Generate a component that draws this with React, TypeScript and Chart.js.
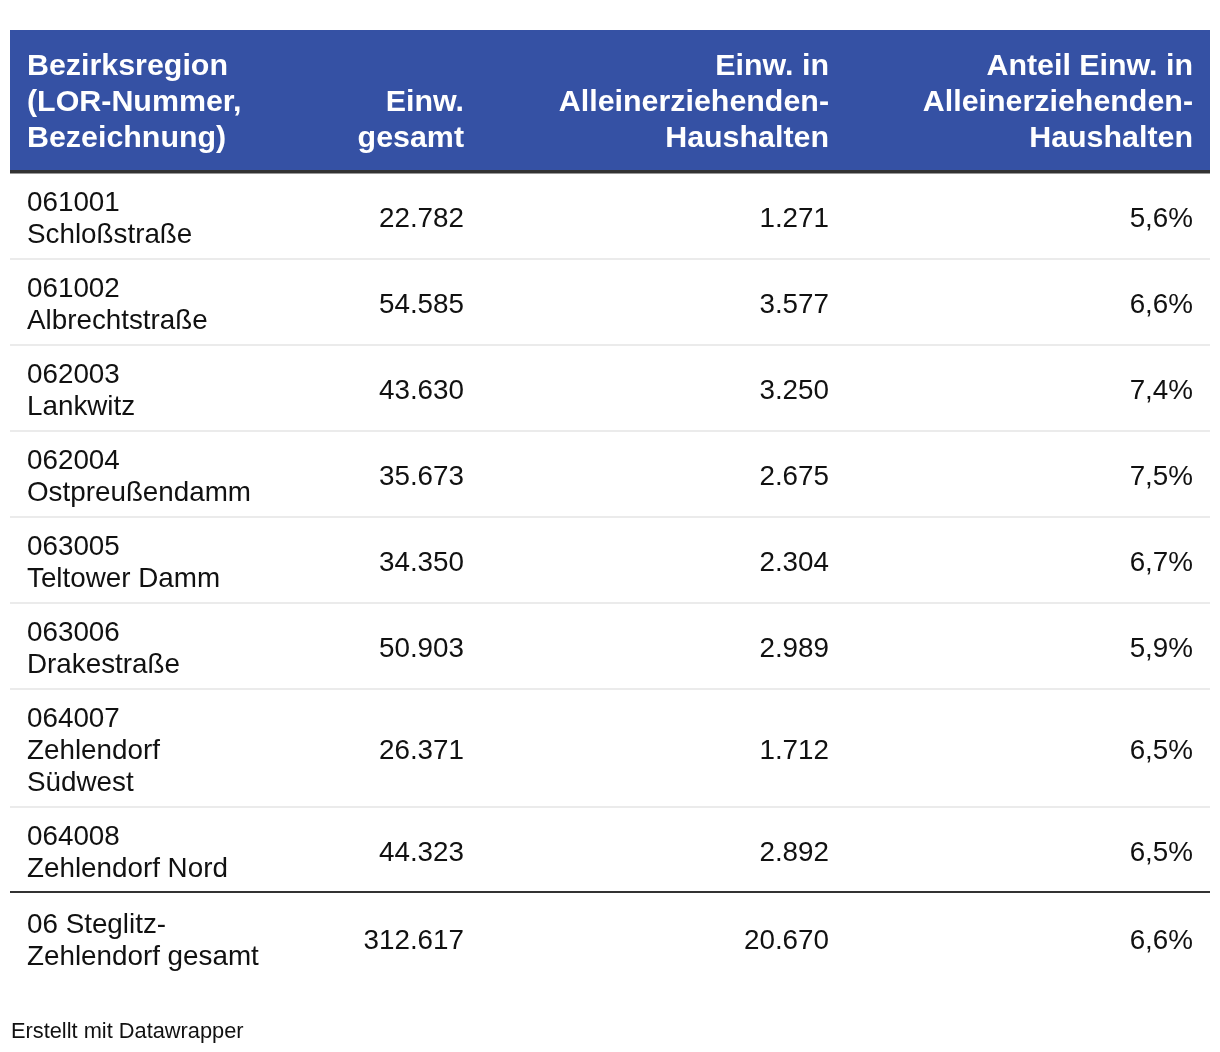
import React, { useEffect, useRef } from 'react';
import { Chart, registerables } from 'chart.js';

Chart.register(...registerables);

// ---------- data ----------
const headerCol1 = ['Bezirksregion', '(LOR-Nummer,', 'Bezeichnung)'];
const headerCol2 = ['Einw.', 'gesamt'];
const headerCol3 = ['Einw. in', 'Alleinerziehenden-', 'Haushalten'];
const headerCol4 = ['Anteil Einw. in', 'Alleinerziehenden-', 'Haushalten'];

const lorCodes = ['061001', '061002', '062003', '062004', '063005', '063006', '064007', '064008'];
const regionNames = [
  'Schloßstraße',
  'Albrechtstraße',
  'Lankwitz',
  'Ostpreußendamm',
  'Teltower Damm',
  'Drakestraße',
  'Zehlendorf Südwest',
  'Zehlendorf Nord',
];
const residentsTotal = [22782, 54585, 43630, 35673, 34350, 50903, 26371, 44323];
const residentsSingleParent = [1271, 3577, 3250, 2675, 2304, 2989, 1712, 2892];
const shareSingleParent = [5.6, 6.6, 7.4, 7.5, 6.7, 5.9, 6.5, 6.5];

const totalLabel = '06 Steglitz-Zehlendorf gesamt';
const totalResidents = 312617;
const totalSingleParent = 20670;
const totalShare = 6.6;

const footerText = 'Erstellt mit Datawrapper';

// ---------- helpers ----------
const fmtInt = (v: number) => String(v).replace(/\B(?=(\d{3})+(?!\d))/g, '.');
const fmtPct = (v: number) => v.toFixed(1).replace('.', ',') + '%';

const FONT = '"Liberation Sans", Arial, Helvetica, sans-serif';

function wrapText(ctx: CanvasRenderingContext2D, text: string, maxW: number): string[] {
  // break opportunities: after spaces and after hyphens
  const tokens = text.match(/[^\s-]+-?|\s+/g) || [text];
  const lines: string[] = [];
  let cur = '';
  for (const t of tokens) {
    const trial = cur + t;
    if (cur && ctx.measureText(trial.trimEnd()).width > maxW) {
      lines.push(cur.trimEnd());
      cur = t.trim() ? t : '';
    } else {
      cur = trial;
    }
  }
  if (cur.trim()) lines.push(cur.trimEnd());
  return lines;
}

export default function App() {
  const ref = useRef<HTMLCanvasElement>(null);

  useEffect(() => {
    const canvas = ref.current;
    if (!canvas) return;
    const W = 1220;
    const H = 1052;

    const tablePlugin = {
      id: 'tablePlugin',
      afterDraw(chart: any) {
        const ctx: CanvasRenderingContext2D = chart.ctx;
        const xs = chart.scales.x;
        const ys = chart.scales.y;
        const px = (v: number) => xs.getPixelForValue(v);
        const py = (v: number) => ys.getPixelForValue(v);

        const tableLeft = 10;
        const tableRight = 1210;
        const headerTop = 30;
        const headerBottom = 170;
        const col1X = 27;
        const colRight = [464, 829, 1193];
        const headerLine = 36;
        const headerLastBaseline = 146.5;
        const bodyLine = 32;
        const rowPad = 22;
        const bodySize = 27.8;
        const headerSize = 30.4;

        ctx.save();
        // header band
        ctx.fillStyle = '#3551a4';
        ctx.fillRect(px(tableLeft), py(headerTop), px(tableRight) - px(tableLeft), py(headerBottom) - py(headerTop));
        ctx.fillStyle = '#333333';
        ctx.fillRect(px(tableLeft), py(headerBottom), px(tableRight) - px(tableLeft), py(headerBottom + 3.5) - py(headerBottom));

        // header text
        ctx.fillStyle = '#ffffff';
        ctx.font = `bold ${headerSize}px ${FONT}`;
        ctx.textBaseline = 'alphabetic';
        const drawHeader = (lines: string[], x: number, align: CanvasTextAlign) => {
          ctx.textAlign = align;
          lines.forEach((l, i) => {
            const b = headerLastBaseline - (lines.length - 1 - i) * headerLine;
            ctx.fillText(l, px(x), py(b));
          });
        };
        drawHeader(headerCol1, col1X, 'left');
        drawHeader(headerCol2, colRight[0], 'right');
        drawHeader(headerCol3, colRight[1], 'right');
        drawHeader(headerCol4, colRight[2], 'right');

        // body rows
        ctx.font = `${bodySize}px ${FONT}`;
        const maxLabelW = 242;
        let y = 173;
        const drawRow = (labelLines: string[], vals: string[], top: number) => {
          ctx.fillStyle = '#111111';
          ctx.textAlign = 'left';
          labelLines.forEach((l, i) => {
            const c = top + 28 + i * bodyLine;
            ctx.fillText(l, px(col1X), py(c + 10));
          });
          const mid = top + 28 + ((labelLines.length - 1) * bodyLine) / 2;
          ctx.textAlign = 'right';
          vals.forEach((v, j) => ctx.fillText(v, px(colRight[j]), py(mid + 10)));
          return labelLines.length * bodyLine + rowPad;
        };

        lorCodes.forEach((code, i) => {
          const lines = [code, ...wrapText(ctx, regionNames[i], maxLabelW)];
          const h = drawRow(
            lines,
            [fmtInt(residentsTotal[i]), fmtInt(residentsSingleParent[i]), fmtPct(shareSingleParent[i])],
            y
          );
          const last = i === lorCodes.length - 1;
          const ruleTop = last ? y + h - 2 : y + h - 1;
          ctx.fillStyle = last ? '#333333' : '#ebebeb';
          ctx.fillRect(px(tableLeft), py(ruleTop), px(tableRight) - px(tableLeft), py(ruleTop + 2) - py(ruleTop));
          y += h;
        });

        // total row
        ctx.font = `${bodySize}px ${FONT}`;
        drawRow(
          wrapText(ctx, totalLabel, maxLabelW),
          [fmtInt(totalResidents), fmtInt(totalSingleParent), fmtPct(totalShare)],
          y + 2
        );

        // footer
        ctx.fillStyle = '#111111';
        ctx.textAlign = 'left';
        ctx.font = `21.8px ${FONT}`;
        ctx.fillText(footerText, px(11), py(1038));
        ctx.restore();
      },
    };

    const chart = new Chart(canvas, {
      type: 'scatter',
      data: { datasets: [] },
      options: {
        animation: false,
        responsive: false,
        maintainAspectRatio: false,
        layout: { padding: 0 },
        events: [],
        plugins: { legend: { display: false }, tooltip: { enabled: false }, title: { display: false } },
        scales: {
          x: { type: 'linear', min: 0, max: W, display: false },
          y: { type: 'linear', min: 0, max: H, reverse: true, display: false },
        },
      },
      plugins: [tablePlugin],
    } as any);

    return () => chart.destroy();
  }, []);

  return (
    <div style={{ position: 'absolute', left: 0, top: 0, width: 1220, height: 1052, background: '#ffffff' }}>
      <canvas ref={ref} width={1220} height={1052} style={{ display: 'block', width: 1220, height: 1052 }} />
    </div>
  );
}
